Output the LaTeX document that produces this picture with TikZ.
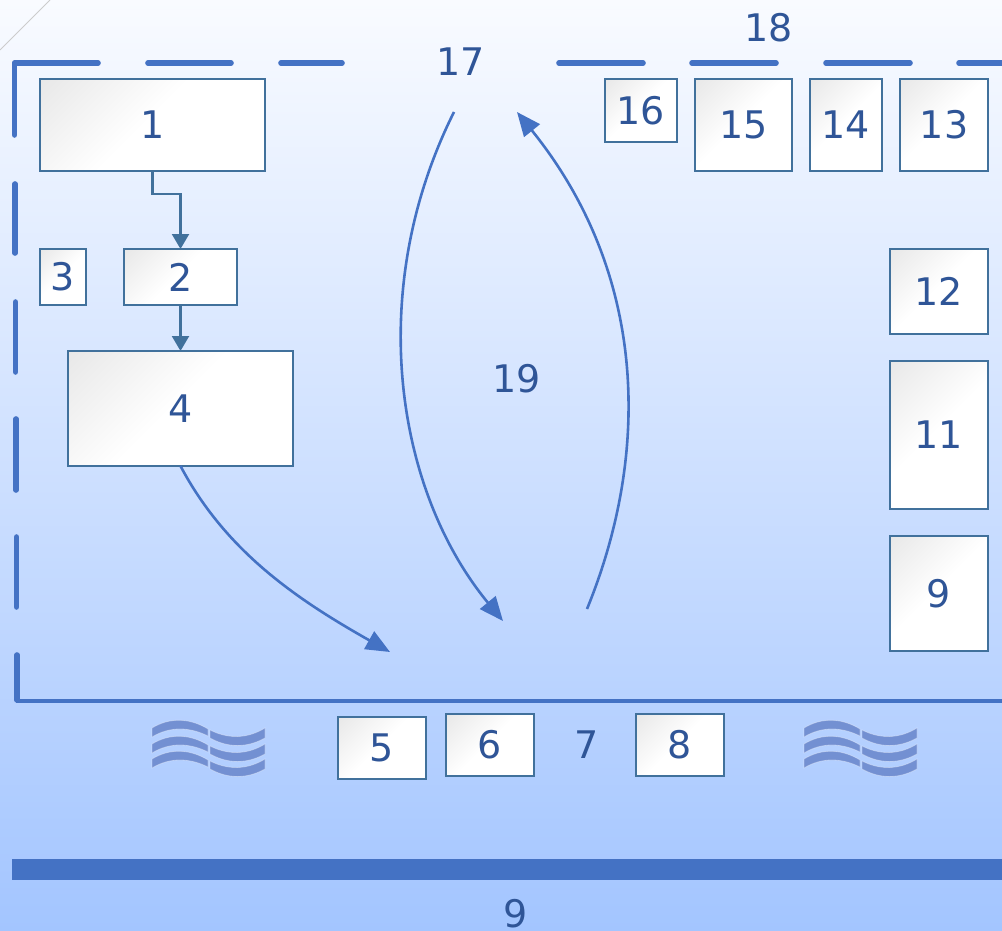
\documentclass[tikz,border=0pt]{standalone}
\usepackage{fontspec}
\setmainfont{DejaVu Sans}
\usetikzlibrary{arrows.meta}
\definecolor{txtblue}{HTML}{2F5597}
\definecolor{lineblue}{HTML}{4472C4}
\definecolor{boxedge}{HTML}{41719C}
\definecolor{wavefill}{HTML}{7390D2}
\definecolor{bgtop}{HTML}{F9FBFF}
\definecolor{bgmid}{HTML}{D5E3FF}
\definecolor{bgbot}{HTML}{A3C5FF}
\definecolor{boxgray}{HTML}{E6E6E6}
\pgfdeclareverticalshading{boxfade}{100bp}{color(0bp)=(white); color(52bp)=(white); color(88bp)=(boxgray); color(100bp)=(boxgray)}
\tikzset{
  bx/.style={draw=boxedge,line width=1.6pt,inner sep=0pt,outer sep=0pt,shade,shading=boxfade,shading angle=45,font=\fontsize{38}{38}\selectfont,text=txtblue},
  lbl/.style={inner sep=0pt,font=\fontsize{38}{38}\selectfont,text=txtblue},
  framedash/.style={draw=lineblue,line width=5.6pt,line cap=round},
  curvearrow/.style={draw=lineblue,line width=2.6pt,-{Triangle[length=24pt,width=20pt]}},
  boxarrow/.style={draw=boxedge,line width=2.2pt,-{Triangle[length=15pt,width=17pt]}},
  wavestripe/.style={fill=wavefill,draw=white,draw opacity=.35,line width=.8pt}
}
\newcommand{\wavegroup}[1]{%
  \begin{scope}[shift={(#1,0)}]
    \foreach \d in {0,16,31}{
      \begin{scope}[shift={(0,\d)}]
        \path[wavestripe] (0,728) .. controls (18,717) and (38,718) .. (56,729) -- (56,736) .. controls (38,727) and (18,726) .. (0,737) -- cycle;
        \path[wavestripe] (58,730) .. controls (76,739) and (95,739) .. (113,728) -- (113,738) .. controls (95,748) and (76,748) .. (58,738) -- cycle;
      \end{scope}
    }
  \end{scope}}
\begin{document}
\begin{tikzpicture}[x=1pt,y=-1pt]
\useasboundingbox (0,0) rectangle (1002,931);
\begin{scope}
\clip (0,0) rectangle (1002,931);
\shade[top color=bgtop,middle color=bgmid,bottom color=bgbot] (0,0) rectangle (1002,931);
\draw[black!20,line width=1pt] (0,50) -- (50,0);
% dashed frame
\foreach \a/\b in {15/98,148/231,281/342,559/643,692/776,826/910,959/1010}{
  \draw[framedash] (\a,63) -- (\b,63);
}
\draw[framedash] (14.5,63) -- (14.5,135);
\draw[framedash] (15,184) -- (15,253);
\draw[framedash] (15.5,302) -- (15.5,372);
\draw[framedash] (16,419) -- (16,490);
\draw[framedash] (16.5,537) -- (16.5,607);
\draw[framedash] (17,655) -- (17,700);
\draw[lineblue,line width=3.4pt] (16,701) -- (1010,701);
\fill[lineblue] (12,859) rectangle (1010,880);
% boxes
\node[bx,minimum width=225pt,minimum height=92pt] (b1) at (152.5,125) {1};
\node[bx,minimum width=113pt,minimum height=56pt] (b2) at (180.5,277) {2};
\node[bx,minimum width=46pt,minimum height=56pt] (b3) at (63,277) {3};
\node[bx,minimum width=225pt,minimum height=115pt] (b4) at (180.5,408.5) {4};
\node[bx,minimum width=88pt,minimum height=62pt] (b5) at (382,748) {5};
\node[bx,minimum width=88pt,minimum height=62pt] (b6) at (490,745) {6};
\node[bx,minimum width=88pt,minimum height=62pt] (b8) at (680,745) {8};
\node[bx,minimum width=72pt,minimum height=63pt] (b16) at (641,110.5) {16};
\node[bx,minimum width=97pt,minimum height=92pt] (b15) at (743.5,125) {15};
\node[bx,minimum width=72pt,minimum height=92pt] (b14) at (846,125) {14};
\node[bx,minimum width=88pt,minimum height=92pt] (b13) at (944,125) {13};
\node[bx,minimum width=98pt,minimum height=85pt] (b12) at (939,291.5) {12};
\node[bx,minimum width=98pt,minimum height=148pt] (b11) at (939,435) {11};
\node[bx,minimum width=98pt,minimum height=115pt] (b9) at (939,593.5) {9};
% labels
\node[lbl] (l17) at (461,62) {17};
\node[lbl] (l18) at (769,28) {18};
\node[lbl] (l19) at (517,379) {19};
\node[lbl] (l7) at (587,745) {7};
\node[lbl] (l9) at (516,914) {9};
% free ends
\coordinate (c4end) at (390,652);
\coordinate (c17out) at (454,112);
\coordinate (c19in) at (503,621);
\coordinate (c19out) at (587,609);
\coordinate (c17in) at (517,112);
% connectors
\draw[boxarrow] (b1.south) -- ++(0,23) -| (b2.north);
\draw[boxarrow] (b2.south) -- (b4.north);
\draw[curvearrow] (b4.south) .. controls (226,552) and (298,600) .. (c4end);
\draw[curvearrow] (c17out) .. controls (365,290) and (395,490) .. (c19in);
\draw[curvearrow] (c19out) .. controls (652,450) and (646,272) .. (c17in);
% waves
\wavegroup{152}
\wavegroup{804}
\end{scope}
\end{tikzpicture}
\end{document}
